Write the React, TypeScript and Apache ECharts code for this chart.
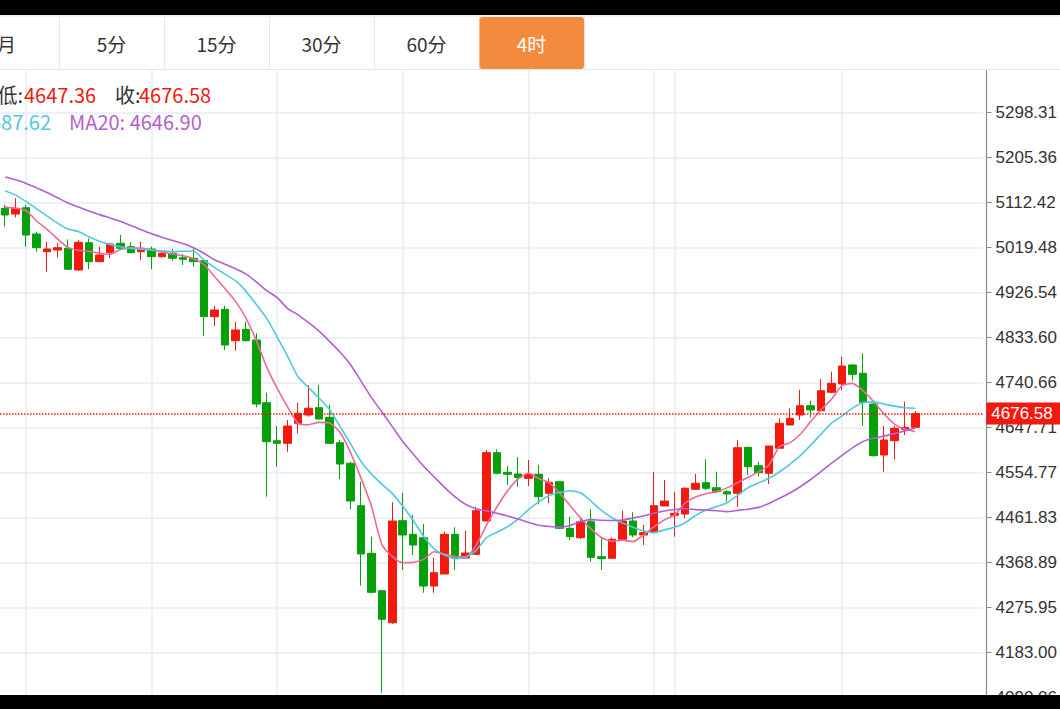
import React, { useEffect, useRef } from 'react';
import * as echarts from 'echarts';

// ---------- data ----------
const tabLabels: string[] = ['月', '5分', '15分', '30分', '60分', '4时'];
const activeTab = 5;

// [open, close, low, high]
const candles: number[][] = [
  [5100.4, 5086.6, 5062.4, 5107.3],
  [5088.7, 5100.4, 5081.9, 5121.1],
  [5101.7, 5045.3, 5021.1, 5107.3],
  [5047.4, 5019.1, 5010.8, 5052.1],
  [5010.8, 5016.4, 4969.5, 5031.5],
  [5014.3, 5019.1, 4999.2, 5028.2],
  [5017.8, 4974.5, 4973.0, 5036.4],
  [4973.0, 5030.2, 4971.6, 5035.0],
  [5029.4, 4990.2, 4974.5, 5038.5],
  [4990.2, 5004.0, 4990.2, 5021.1],
  [5008.7, 5026.7, 4997.2, 5029.4],
  [5028.2, 5017.8, 5015.8, 5045.3],
  [5021.1, 5008.7, 5007.5, 5030.2],
  [5010.8, 5017.8, 4993.7, 5031.5],
  [5016.4, 5000.5, 4974.5, 5021.1],
  [5000.5, 5007.5, 4998.4, 5010.8],
  [5007.5, 4997.2, 4992.2, 5016.4],
  [4998.4, 4995.1, 4983.3, 5006.1],
  [4997.2, 4990.2, 4979.8, 5017.8],
  [4992.2, 4876.6, 4836.7, 4993.7],
  [4876.6, 4890.4, 4857.3, 4898.7],
  [4891.8, 4818.1, 4807.8, 4899.3],
  [4827.0, 4849.1, 4806.3, 4866.2],
  [4850.5, 4827.0, 4824.9, 4866.2],
  [4828.4, 4696.2, 4689.4, 4842.3],
  [4698.9, 4618.4, 4504.8, 4719.6],
  [4620.4, 4615.1, 4566.7, 4650.8],
  [4615.1, 4650.8, 4597.7, 4663.2],
  [4656.4, 4677.0, 4635.7, 4698.9],
  [4673.5, 4687.4, 4670.0, 4735.5],
  [4688.6, 4665.3, 4664.6, 4735.5],
  [4668.8, 4615.1, 4613.6, 4694.2],
  [4616.3, 4572.3, 4541.3, 4621.9],
  [4573.8, 4495.9, 4478.8, 4577.1],
  [4486.2, 4386.4, 4321.0, 4535.8],
  [4387.9, 4307.3, 4305.3, 4422.2],
  [4310.6, 4251.6, 4100.0, 4312.1],
  [4244.5, 4454.6, 4241.9, 4493.2],
  [4455.2, 4425.7, 4353.4, 4513.0],
  [4427.1, 4405.0, 4384.4, 4467.0],
  [4420.1, 4320.3, 4306.5, 4448.4],
  [4320.3, 4347.8, 4306.5, 4378.8],
  [4345.1, 4427.1, 4345.1, 4432.5],
  [4427.1, 4377.6, 4353.4, 4441.6],
  [4378.2, 4388.5, 4376.1, 4434.6],
  [4385.8, 4475.9, 4384.4, 4484.1],
  [4454.6, 4595.7, 4454.6, 4601.2],
  [4595.7, 4553.1, 4551.1, 4602.7],
  [4555.2, 4551.1, 4529.0, 4568.2],
  [4551.7, 4544.0, 4525.4, 4586.2],
  [4542.8, 4551.1, 4526.9, 4580.6],
  [4551.1, 4504.8, 4489.1, 4570.3],
  [4511.8, 4534.5, 4491.2, 4542.8],
  [4535.8, 4439.5, 4437.5, 4535.8],
  [4439.5, 4422.2, 4415.4, 4463.5],
  [4420.1, 4453.2, 4416.8, 4460.2],
  [4453.2, 4379.6, 4370.5, 4478.8],
  [4380.9, 4376.7, 4353.4, 4418.9],
  [4377.6, 4416.8, 4377.6, 4420.9],
  [4416.8, 4454.6, 4415.4, 4475.9],
  [4454.6, 4425.7, 4420.9, 4472.6],
  [4425.7, 4430.4, 4405.0, 4446.3],
  [4430.4, 4486.2, 4430.4, 4555.8],
  [4485.6, 4495.9, 4485.6, 4539.3],
  [4466.4, 4470.5, 4422.2, 4515.1],
  [4469.1, 4522.1, 4460.2, 4524.2],
  [4520.1, 4532.5, 4518.6, 4551.7],
  [4533.7, 4522.1, 4518.6, 4582.0],
  [4523.4, 4515.1, 4511.8, 4556.4],
  [4515.1, 4510.4, 4494.5, 4518.6],
  [4511.8, 4606.0, 4484.1, 4621.9],
  [4606.8, 4566.7, 4549.6, 4608.1],
  [4568.8, 4554.4, 4546.1, 4577.1],
  [4553.1, 4609.5, 4531.0, 4609.5],
  [4604.8, 4656.4, 4604.8, 4666.7],
  [4652.9, 4666.7, 4652.9, 4687.4],
  [4673.5, 4692.7, 4663.2, 4725.2],
  [4692.7, 4683.9, 4668.8, 4703.1],
  [4682.4, 4723.7, 4682.4, 4747.3],
  [4720.4, 4739.0, 4718.3, 4763.0],
  [4737.6, 4774.7, 4725.2, 4793.9],
  [4776.8, 4757.6, 4744.4, 4778.9],
  [4759.7, 4699.8, 4650.8, 4801.0],
  [4696.2, 4589.5, 4587.4, 4703.1],
  [4590.9, 4621.9, 4556.4, 4650.8],
  [4620.4, 4646.1, 4582.0, 4650.8],
  [4644.0, 4648.1, 4632.2, 4701.0],
  [4648.2, 4676.58, 4647.36, 4681.8],
];

const ma5: number[] = [
  5102.9, 5100.4, 5095.5, 5074.2, 5057.1, 5037.4, 5019.3, 5013.7, 5011.4, 5007.7,
  5005.6, 5015.3, 5018.7, 5017.8, 5014.3, 5010.0, 5006.1, 5002.3, 4996.3, 4984.4,
  4959.8, 4934.6, 4908.8, 4874.1, 4827.2, 4772.5, 4728.3, 4689.8, 4656.4, 4653.5,
  4658.2, 4656.8, 4637.8, 4596.3, 4543.6, 4485.8, 4406.3, 4381.7, 4368.5, 4369.1,
  4375.3, 4391.2, 4385.8, 4381.3, 4380.5, 4403.8, 4445.7, 4483.5, 4516.1, 4540.9,
  4553.3, 4542.4, 4533.3, 4512.6, 4486.4, 4460.6, 4438.5, 4420.5, 4412.5, 4415.1,
  4412.1, 4425.1, 4442.4, 4456.7, 4467.4, 4491.8, 4504.2, 4511.0, 4515.3, 4523.0,
  4533.9, 4544.6, 4556.0, 4569.6, 4608.1, 4615.9, 4633.7, 4660.1, 4684.5, 4706.4,
  4734.7, 4738.8, 4723.7, 4701.4, 4676.2, 4654.9, 4644.4, 4639.0,
];

const ma10: number[] = [
  5136.0, 5127.7, 5114.3, 5099.4, 5084.3, 5069.9, 5057.7, 5052.3, 5041.6, 5032.3,
  5025.9, 5021.1, 5017.4, 5016.0, 5014.3, 5012.5, 5010.8, 5011.8, 5012.3, 4993.5,
  4978.4, 4964.5, 4950.9, 4929.4, 4902.0, 4873.0, 4834.2, 4794.6, 4752.0, 4730.3,
  4708.6, 4684.7, 4650.0, 4614.3, 4578.1, 4551.9, 4530.6, 4511.6, 4485.0, 4455.6,
  4423.2, 4397.2, 4384.2, 4376.9, 4379.2, 4393.5, 4420.3, 4431.3, 4442.8, 4458.1,
  4477.7, 4494.0, 4507.1, 4513.3, 4517.0, 4512.8, 4495.7, 4476.3, 4461.4, 4450.7,
  4441.8, 4434.6, 4430.8, 4436.2, 4441.8, 4451.1, 4465.8, 4477.1, 4484.3, 4492.4,
  4507.7, 4523.2, 4532.9, 4542.8, 4555.8, 4571.7, 4589.5, 4611.2, 4634.3, 4656.6,
  4671.7, 4687.6, 4698.7, 4700.6, 4696.2, 4691.9, 4688.6, 4687.62,
];

const ma20: number[] = [
  5165.3, 5159.3, 5151.9, 5142.6, 5133.1, 5122.3, 5111.4, 5103.1, 5095.1, 5087.4,
  5080.6, 5073.8, 5065.1, 5056.2, 5047.8, 5040.5, 5033.9, 5027.7, 5019.1, 5007.5,
  4994.1, 4985.0, 4975.7, 4965.0, 4948.4, 4930.3, 4916.0, 4893.3, 4880.5, 4864.2,
  4846.6, 4825.7, 4803.6, 4778.0, 4744.0, 4709.9, 4680.1, 4649.6, 4618.8, 4592.8,
  4567.6, 4545.7, 4524.2, 4504.6, 4489.3, 4480.0, 4475.5, 4470.5, 4464.9, 4458.7,
  4451.9, 4445.9, 4443.4, 4442.0, 4445.3, 4453.4, 4457.5, 4456.0, 4455.6, 4456.7,
  4460.6, 4464.9, 4470.7, 4475.3, 4478.3, 4480.4, 4478.1, 4477.3, 4475.9, 4474.0,
  4476.5, 4479.0, 4482.7, 4490.7, 4501.5, 4512.4, 4525.4, 4540.3, 4557.2, 4574.2,
  4590.3, 4605.6, 4618.6, 4625.4, 4629.9, 4635.1, 4640.7, 4646.90,
];

const yTickLabels: string[] = [
  '5298.31', '5205.36', '5112.42', '5019.48', '4926.54', '4833.60', '4740.66',
  '4647.71', '4554.77', '4461.83', '4368.89', '4275.95', '4183.00', '4090.06',
];
const yMin = 4066.31;
const yMax = 5386.09;

const vGridIndex: number[] = [2, 14, 26, 38, 50, 62, 64, 80];
const slotCount = 94;
const categories: string[] = Array.from({ length: slotCount }, (_, i) => 'K' + (i + 1));

// ---------- style ----------
const UP = '#f2190f';
const DOWN = '#06a00b';
const C_MA5 = '#ee6a95';
const C_MA10 = '#4fc9df';
const C_MA20 = '#b35fcf';
const GRID = '#e6edf4';
const CJK = '"Microsoft YaHei", "Noto Sans CJK SC", sans-serif';
const NUM = '"Liberation Sans", Arial, sans-serif';

export default function App() {
  const ref = useRef<HTMLDivElement>(null);

  useEffect(() => {
    if (!ref.current) return;
    const chart = echarts.init(ref.current, undefined, { renderer: 'svg' });

    const last = candles[candles.length - 1];
    const lowTxt = last[2].toFixed(2);
    const closeTxt = last[1].toFixed(2);
    const ma10Txt = ma10[ma10.length - 1].toFixed(2);
    const ma20Txt = ma20[ma20.length - 1].toFixed(2);
    const yTickValues = yTickLabels.map((s) => parseFloat(s));

    const tabW = 105;
    const tabX0 = -46;
    const graphics: any[] = [];
    // tab bar
    graphics.push({ type: 'rect', z: 50, shape: { x: 0, y: 15, width: 1060, height: 55 }, style: { fill: '#fff' } });
    graphics.push({ type: 'line', z: 51, shape: { x1: 0, y1: 16, x2: 1060, y2: 16 }, style: { stroke: '#e3e3e3', lineWidth: 1 } });
    graphics.push({ type: 'line', z: 51, shape: { x1: 0, y1: 69.5, x2: 1060, y2: 69.5 }, style: { stroke: '#e6e6e6', lineWidth: 1 } });
    tabLabels.forEach((t, k) => {
      const x = tabX0 + tabW * k;
      if (k > 0) {
        graphics.push({ type: 'line', z: 51, shape: { x1: x + 0.5, y1: 17, x2: x + 0.5, y2: 69 }, style: { stroke: '#e6e6e6', lineWidth: 1 } });
      }
      if (k === activeTab) {
        graphics.push({ type: 'rect', z: 52, shape: { x: x + 0.5, y: 17, width: tabW - 0.5, height: 52, r: 3 }, style: { fill: '#f28b3d' } });
      }
      graphics.push({
        type: 'text', z: 53, x: x + tabW / 2, y: 43,
        style: { text: t, fill: k === activeTab ? '#fff' : '#333', fontSize: 19, fontFamily: CJK, textAlign: 'center', textVerticalAlign: 'middle', align: 'center', verticalAlign: 'middle' },
      });
    });
    graphics.push({ type: 'line', z: 51, shape: { x1: 584.5, y1: 17, x2: 584.5, y2: 69 }, style: { stroke: '#e6e6e6', lineWidth: 1 } });

    // info texts
    const txt = (text: string, x: number, y: number, fill: string, align: string) => ({
      type: 'text', z: 60, x, y,
      style: { text, fill, fontSize: 20, fontFamily: CJK, textAlign: align, textVerticalAlign: 'middle', align, verticalAlign: 'middle' },
    });
    graphics.push(txt('低:', 23, 94, '#333', 'right'));
    graphics.push(txt(lowTxt, 24, 94, '#f21a12', 'left'));
    graphics.push(txt('收:', 115, 94, '#333', 'left'));
    graphics.push(txt(closeTxt, 139, 94, '#f21a12', 'left'));
    graphics.push(txt('MA10: ' + ma10Txt, 51, 121, C_MA10, 'right'));
    graphics.push(txt('MA20: ' + ma20Txt, 69, 121, C_MA20, 'left'));

    // black frame bars
    graphics.push({ type: 'rect', z: 100, shape: { x: 0, y: 0, width: 1060, height: 15 }, style: { fill: '#000' } });
    graphics.push({ type: 'rect', z: 100, shape: { x: 0, y: 695, width: 1060, height: 14 }, style: { fill: '#000' } });

    const option: any = {
      animation: false,
      backgroundColor: '#fff',
      grid: { left: -2.25, right: 75.25, top: 70, bottom: 0, containLabel: false },
      xAxis: {
        type: 'category',
        data: categories,
        boundaryGap: true,
        axisLine: { show: false },
        axisTick: { show: false },
        axisLabel: { show: false },
        splitLine: {
          show: true,
          alignWithLabel: true,
          interval: (index: number) => vGridIndex.indexOf(index) >= 0,
          lineStyle: { color: GRID, width: 1.5 },
        },
      },
      yAxis: {
        type: 'value',
        position: 'right',
        offset: 3.25,
        min: yMin,
        max: yMax,
        scale: true,
        axisLine: { show: true, lineStyle: { color: '#8c8c8c', width: 1.2 } },
        axisTick: { show: true, length: 5, customValues: yTickValues, lineStyle: { color: '#8c8c8c' } },
        axisLabel: {
          show: true,
          customValues: yTickValues,
          formatter: (v: number) => v.toFixed(2),
          color: '#333',
          fontSize: 17,
          fontFamily: NUM,
          margin: 9,
        },
        splitLine: { show: true, lineStyle: { color: GRID, width: 1.5 } },
      },
      series: [
        {
          type: 'candlestick',
          data: candles,
          barWidth: 8,
          itemStyle: { color: UP, color0: DOWN, borderColor: UP, borderColor0: DOWN, borderWidth: 1 },
          markLine: {
            silent: true,
            symbol: ['none', 'none'],
            data: [{ yAxis: last[1] }],
            lineStyle: { type: 'dotted', color: '#f2190f', width: 1.5 },
            label: {
              show: true,
              position: 'end',
              distance: 3,
              formatter: () => closeTxt,
              color: '#fff',
              backgroundColor: '#f2190f',
              padding: [3, 8, 2, 5],
              fontSize: 17,
              fontFamily: NUM,
            },
          },
          z: 3,
        },
        { type: 'line', data: ma5, showSymbol: false, smooth: 0.2, lineStyle: { color: C_MA5, width: 1.6 }, z: 4 },
        { type: 'line', data: ma10, showSymbol: false, smooth: 0.2, lineStyle: { color: C_MA10, width: 1.6 }, z: 4 },
        { type: 'line', data: ma20, showSymbol: false, smooth: 0.2, lineStyle: { color: C_MA20, width: 1.6 }, z: 4 },
      ],
      graphic: { elements: graphics },
    };

    chart.setOption(option);
    return () => chart.dispose();
  }, []);

  return <div ref={ref} style={{ position: 'absolute', left: 0, top: 0, width: 1060, height: 709 }} />;
}
